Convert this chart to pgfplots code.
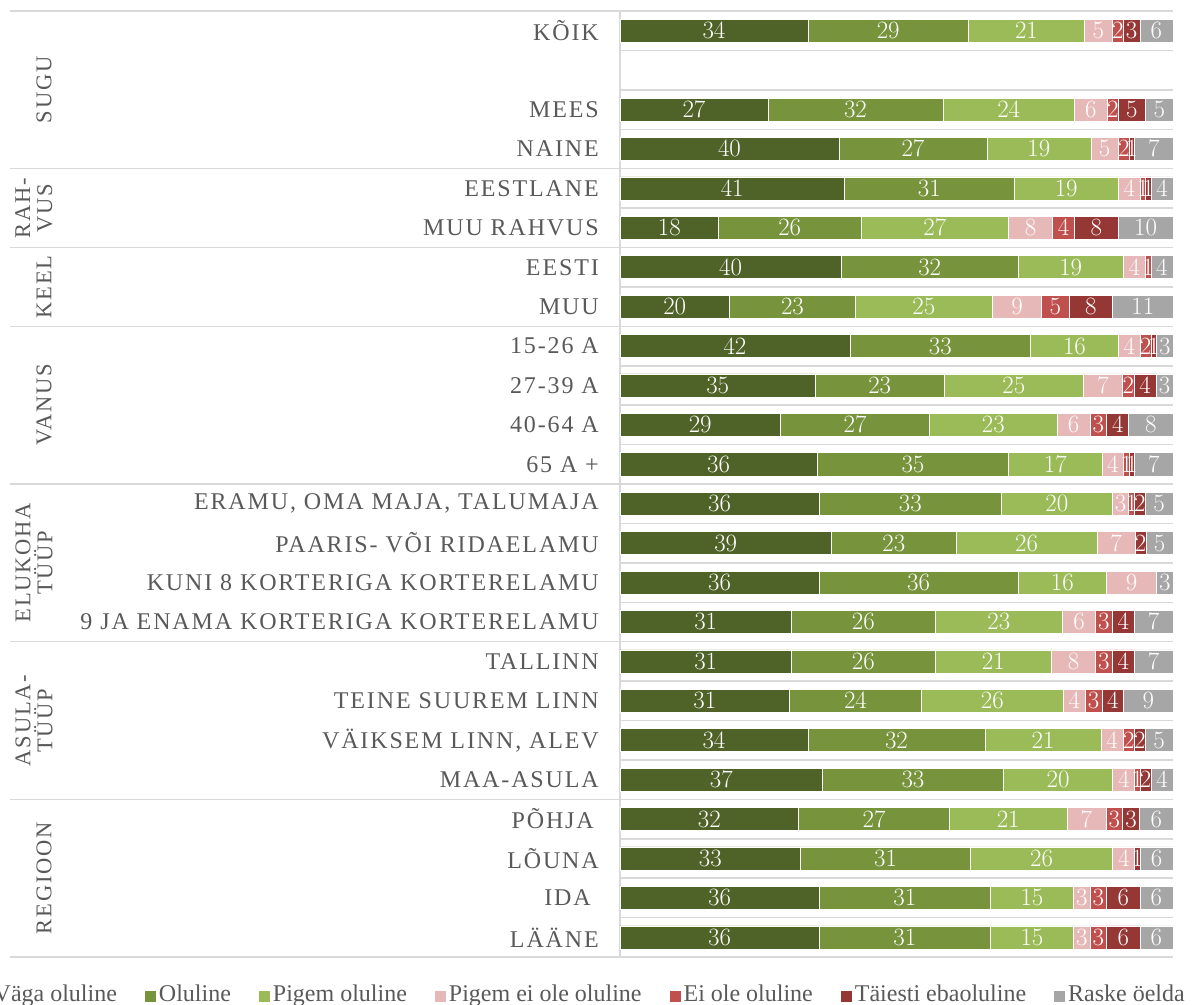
\documentclass[border=0pt]{standalone}
\usepackage{fontspec}
\setmainfont{Liberation Serif}
\newfontfamily\spaced[LetterSpace=7.8]{Liberation Serif}
\usepackage{pgfplots}
\usepackage{pgfplotstable}
\pgfplotsset{compat=1.18}

\definecolor{c1}{HTML}{4F6228}
\definecolor{c2}{HTML}{77933C}
\definecolor{c3}{HTML}{9BBB59}
\definecolor{c4}{HTML}{E6B9B8}
\definecolor{c5}{HTML}{C0504D}
\definecolor{c6}{HTML}{953735}
\definecolor{c7}{HTML}{A6A6A6}
\definecolor{txt}{HTML}{595959}
\definecolor{grd}{HTML}{D9D9D9}

% y = row (1 is the empty row), t = row sum (bars are 100% stacked)
\pgfplotstableread{
y  a  b  c  d e f g  t
0  34 29 21 5 2 3 6  100
2  27 32 24 6 2 5 5  101
3  40 27 19 5 2 1 7  101
4  41 31 19 4 1 1 4  101
5  18 26 27 8 4 8 10 101
6  40 32 19 4 1 0 4  100
7  20 23 25 9 5 8 11 101
8  42 33 16 4 2 1 3  101
9  35 23 25 7 2 4 3  99
10 29 27 23 6 3 4 8  100
11 36 35 17 4 1 1 7  101
12 36 33 20 3 1 2 5  100
13 39 23 26 7 0 2 5  102
14 36 36 16 9 0 0 3  100
15 31 26 23 6 3 4 7  100
16 31 26 21 8 3 4 7  100
17 31 24 26 4 3 4 9  101
18 34 32 21 4 2 2 5  100
19 37 33 20 4 1 2 4  101
20 32 27 21 7 3 3 6  99
21 33 31 26 4 0 1 6  101
22 36 31 15 3 3 6 6  100
23 36 31 15 3 3 6 6  100
}\rows

\tikzset{grp/.style={rotate=90, font=\fontsize{22.5}{22}\spaced, text=txt, align=center, inner sep=0pt}}
\pgfplotsset{
  seg/.style={fill=#1, draw=white, line width=0.6pt},
}

\begin{document}
\begin{tikzpicture}
\useasboundingbox (0,0) rectangle (1198pt,1004pt);
\begin{axis}[
    at={(620pt,47pt)}, anchor=south west,
    scale only axis, width=553pt, height=946pt,
    xbar stacked, bar width=23pt,
    xmin=0, xmax=100, ymin=-0.5, ymax=23.5, y dir=reverse,
    clip=false,
    hide x axis,
    axis y line*=left,
    y axis line style={-, draw=grd, line width=1.5pt},
    ytick={0,2,3,4,5,6,7,8,9,10,11,12,13,14,15,16,17,18,19,20,21,22,23},
    yticklabels={KÕIK, MEES, NAINE, EESTLANE, MUU RAHVUS, EESTI, MUU,
        15-26 A, 27-39 A, 40-64 A, 65 A +,
        {ERAMU, OMA MAJA, TALUMAJA}, PAARIS- VÕI RIDAELAMU,
        KUNI 8 KORTERIGA KORTERELAMU, 9 JA ENAMA KORTERIGA KORTERELAMU,
        TALLINN, TEINE SUUREM LINN, {VÄIKSEM LINN, ALEV}, MAA-ASULA,
        PÕHJA\rule{5pt}{0pt}, LÕUNA, IDA\rule{8pt}{0pt}, LÄÄNE},
    yticklabel style={font=\fontsize{24}{28}\spaced, text=txt, inner sep=0pt, xshift=-21pt},
    major tick length=0pt, minor tick length=0pt,
    minor ytick={-0.5,0.5,...,23.5},
    yminorgrids=true,
    minor grid style={draw=grd, line width=1.5pt},
    point meta=explicit,
    nodes near coords={\pgfmathfloatifflags{\pgfplotspointmeta}{0}{}{\pgfmathprintnumber{\pgfplotspointmeta}}},
    every node near coord/.append style={font=\fontsize{23}{27}\selectfont, text=white, anchor=center, inner sep=0pt},
    legend columns=7,
    legend image code/.code={\path[#1, draw=none] (0pt,-6pt) rectangle (11pt,5pt);},
    legend style={at={(1.0235,-0.0407)}, anchor=east, draw=none, fill=none, inner sep=0pt,
        font=\fontsize{24}{28}\selectfont, text=txt,
        nodes={inner sep=1pt, text height=16pt, text depth=5pt},
        /tikz/every odd column/.append style={column sep=2pt},
        /tikz/every even column/.append style={column sep=27pt}},
]
\addplot[seg=c1] table[x expr=\thisrow{a}*100/\thisrow{t}, y=y, meta=a] {\rows};
\addplot[seg=c2] table[x expr=\thisrow{b}*100/\thisrow{t}, y=y, meta=b] {\rows};
\addplot[seg=c3] table[x expr=\thisrow{c}*100/\thisrow{t}, y=y, meta=c] {\rows};
\addplot[seg=c4] table[x expr=\thisrow{d}*100/\thisrow{t}, y=y, meta=d] {\rows};
\addplot[seg=c5] table[x expr=\thisrow{e}*100/\thisrow{t}, y=y, meta=e] {\rows};
\addplot[seg=c6] table[x expr=\thisrow{f}*100/\thisrow{t}, y=y, meta=f] {\rows};
\addplot[seg=c7] table[x expr=\thisrow{g}*100/\thisrow{t}, y=y, meta=g] {\rows};
\legend{Väga oluline, Oluline, Pigem oluline, Pigem ei ole oluline, Ei ole oluline, Täiesti ebaoluline, Raske öelda}

% group separators running out to the left
\draw[grd, line width=1.5pt] (axis cs:0,-0.5) -- ++(-610pt,0pt);
\draw[grd, line width=1.5pt] (axis cs:0,3.5) -- ++(-610pt,0pt);
\draw[grd, line width=1.5pt] (axis cs:0,5.5) -- ++(-610pt,0pt);
\draw[grd, line width=1.5pt] (axis cs:0,7.5) -- ++(-610pt,0pt);
\draw[grd, line width=1.5pt] (axis cs:0,11.5) -- ++(-610pt,0pt);
\draw[grd, line width=1.5pt] (axis cs:0,15.5) -- ++(-610pt,0pt);
\draw[grd, line width=1.5pt] (axis cs:0,19.5) -- ++(-610pt,0pt);
\draw[grd, line width=1.5pt] (axis cs:0,23.5) -- ++(-610pt,0pt);
% group names
\node[grp] at ([xshift=-576pt]axis cs:0,1.5) {SUGU};
\node[grp] at ([xshift=-586pt]axis cs:0,4.5) {RAH-\\VUS};
\node[grp] at ([xshift=-576pt]axis cs:0,6.5) {KEEL};
\node[grp] at ([xshift=-576pt]axis cs:0,9.5) {VANUS};
\node[grp] at ([xshift=-586pt]axis cs:0,13.5) {ELUKOHA\\TÜÜP};
\node[grp] at ([xshift=-586pt]axis cs:0,17.5) {ASULA-\\TÜÜP};
\node[grp] at ([xshift=-576pt]axis cs:0,21.5) {REGIOON};
\end{axis}
\end{tikzpicture}
\end{document}
